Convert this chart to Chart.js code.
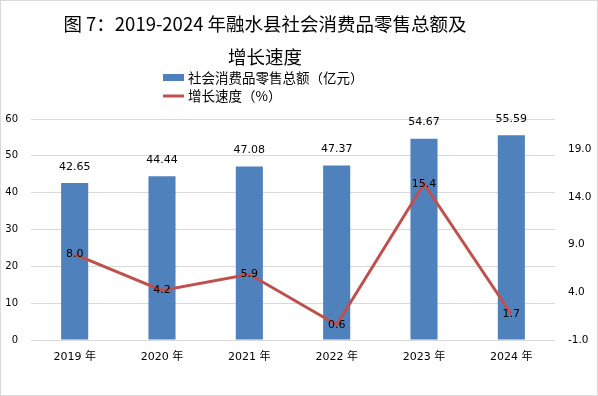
<!DOCTYPE html>
<html><head><meta charset="utf-8">
<script src="https://cdn.jsdelivr.net/npm/chart.js@4"></script>
<style>html,body{margin:0;padding:0;background:#fff;overflow:hidden}#wrap{width:598px;height:396px;position:relative}</style>
</head><body><div id="wrap"><canvas id="c"></canvas></div>
<script>
const categories = ['2019 年','2020 年','2021 年','2022 年','2023 年','2024 年'];
const salesTotal = [42.65, 44.44, 47.08, 47.37, 54.67, 55.59];
const growthRate = [8.0, 4.2, 5.9, 0.6, 15.4, 1.7];
const leftTicks = [0, 10, 20, 30, 40, 50, 60];
const rightTicks = [-1, 4, 9, 14, 19];
const titleLines = ['图 7：2019-2024 年融水县社会消费品零售总额及', '增长速度'];
const seriesNames = ['社会消费品零售总额（亿元）', '增长速度（%）'];

const BAR_COLOR = '#4F81BD';
const LINE_COLOR = '#C0504D';
const NUM_FONT = '"DejaVu Sans", "Noto Sans CJK SC", sans-serif';
const CJK_FONT = '"Noto Sans CJK SC", "DejaVu Sans", sans-serif';

const extras = {
  id: 'extras',
  afterDatasetsDraw(chart) {
    const ctx = chart.ctx;
    ctx.save();
    ctx.fillStyle = '#000';
    ctx.textAlign = 'center';
    ctx.textBaseline = 'middle';
    ctx.font = '11px ' + NUM_FONT;
    chart.data.datasets.forEach((ds, i) => {
      const meta = chart.getDatasetMeta(i);
      meta.data.forEach((el, j) => {
        if (ds.type === 'bar') {
          ctx.fillText(ds.data[j].toFixed(2), el.x, el.y - 16);
        } else {
          ctx.fillText(ds.data[j].toFixed(1), el.x, el.y);
        }
      });
    });
    ctx.restore();
  },
  afterDraw(chart) {
    const ctx = chart.ctx;
    ctx.save();
    // title
    ctx.fillStyle = '#000';
    ctx.textAlign = 'center';
    ctx.textBaseline = 'middle';
    ctx.font = '18.5px ' + CJK_FONT;
    ctx.fillText(titleLines[0], 265, 24);
    ctx.fillText(titleLines[1], 265, 57);
    // legend
    ctx.font = '13.5px ' + CJK_FONT;
    ctx.textAlign = 'left';
    const lx = 163, ly1 = 78, ly2 = 96;
    ctx.fillStyle = BAR_COLOR;
    ctx.fillRect(lx, ly1 - 4, 21, 7);
    ctx.fillStyle = '#000';
    ctx.fillText(chart.data.datasets[0].label, lx + 25, ly1);
    ctx.strokeStyle = LINE_COLOR;
    ctx.lineWidth = 3;
    ctx.beginPath(); ctx.moveTo(lx, ly2); ctx.lineTo(lx + 21, ly2); ctx.stroke();
    ctx.fillText(chart.data.datasets[1].label, lx + 25, ly2);
    // border
    ctx.strokeStyle = '#d9d9d9';
    ctx.lineWidth = 1;
    ctx.strokeRect(0.5, 0.5, chart.width - 1, chart.height - 1);
    ctx.restore();
  }
};

new Chart(document.getElementById('c'), {
  data: {
    labels: categories,
    datasets: [
      { type: 'bar', label: seriesNames[0], data: salesTotal, backgroundColor: BAR_COLOR,
        yAxisID: 'y', order: 1, barPercentage: 0.31, categoryPercentage: 1 },
      { type: 'line', label: seriesNames[1], data: growthRate, borderColor: LINE_COLOR,
        backgroundColor: LINE_COLOR, borderWidth: 3, pointRadius: 0, tension: 0,
        yAxisID: 'y1', order: 0 }
    ]
  },
  options: {
    responsive: true, maintainAspectRatio: false, animation: false, devicePixelRatio: 1,
    layout: { padding: { left: 0, right: 0, bottom: 0, top: 119 } },
    plugins: {
      legend: { display: false },
      tooltip: { enabled: false },
      title: { display: false }
    },
    scales: {
      x: {
        afterFit: s => { s.height = 56; },
        grid: { display: false, drawTicks: false }, border: { display: false },
        ticks: { color: '#000', font: { family: NUM_FONT, size: 11 }, padding: 11, maxRotation: 0 }
      },
      y: {
        position: 'left', min: 0, max: 60,
        afterFit: s => { s.width = 31; },
        afterBuildTicks: s => { s.ticks = leftTicks.map(v => ({ value: v })); },
        grid: { color: '#d9d9d9', drawTicks: false }, border: { display: false },
        ticks: { color: '#000', font: { family: NUM_FONT, size: 10 }, padding: 13 }
      },
      y1: {
        position: 'right', min: -1, max: 22.2,
        afterFit: s => { s.width = 43; },
        afterBuildTicks: s => { s.ticks = rightTicks.map(v => ({ value: v })); },
        grid: { display: false, drawTicks: false }, border: { display: false },
        ticks: { color: '#000', font: { family: NUM_FONT, size: 10.5 }, padding: 13,
          callback: v => Number(v).toFixed(1) }
      }
    }
  },
  plugins: [extras]
});
</script></body></html>
